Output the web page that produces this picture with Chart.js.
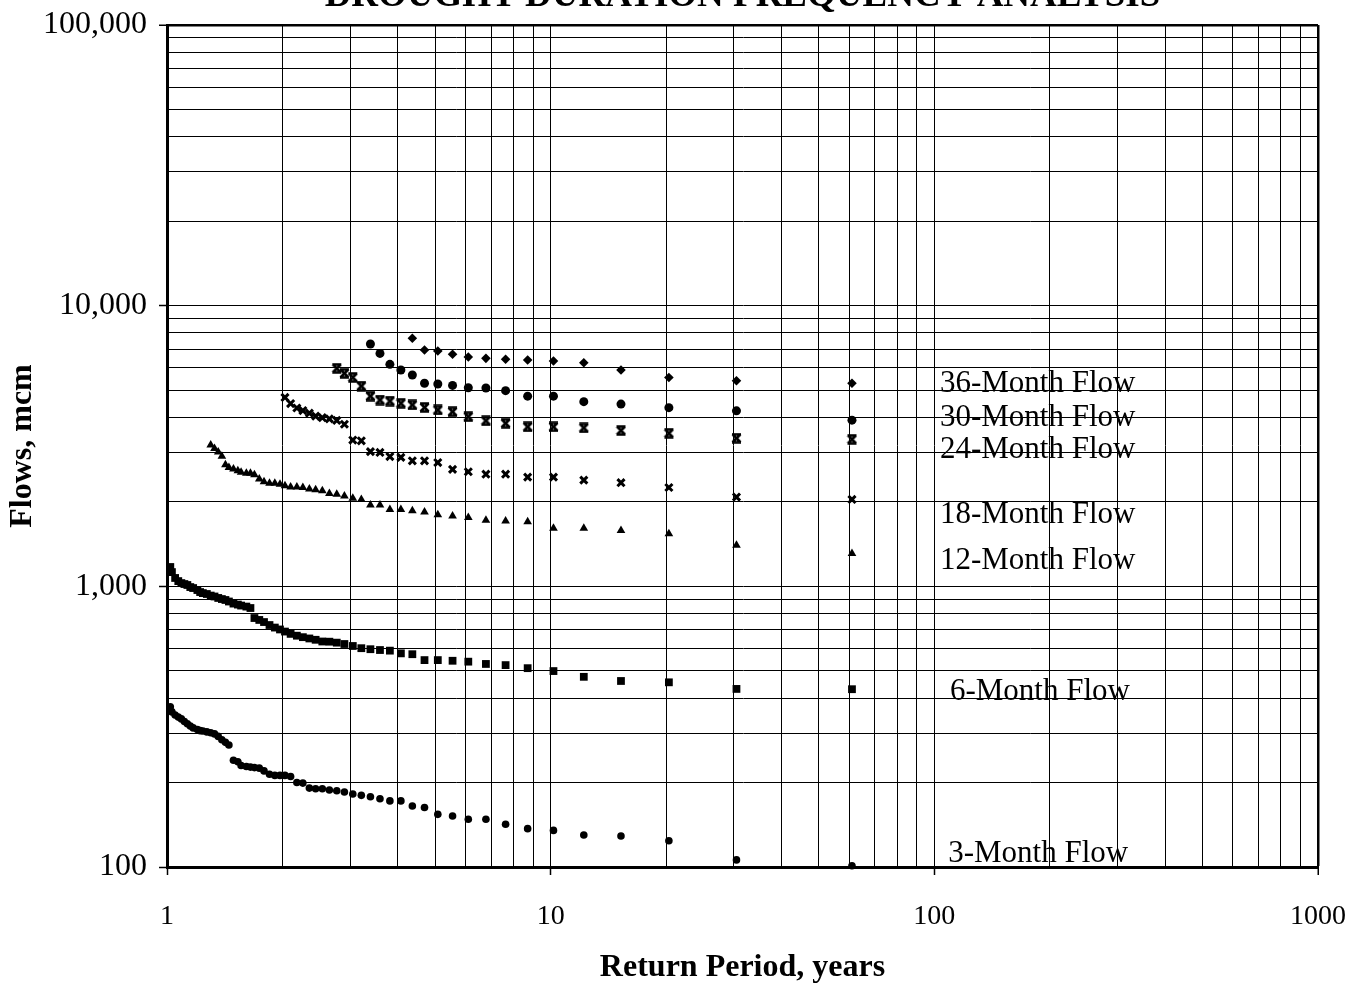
<!DOCTYPE html>
<html>
<head>
<meta charset="utf-8">
<script src="https://cdn.jsdelivr.net/npm/chart.js@4.4.0/dist/chart.umd.min.js"></script>
<style>
  html, body { margin: 0; padding: 0; background: #fff; }
</style>
</head>
<body>
<canvas id="myChart" width="1355" height="989"></canvas>
<script>
// return period of rank m (m = 1 first)
const returnPeriod = [61, 30.5, 20.33, 15.25, 12.2, 10.17, 8.71, 7.63, 6.78, 6.1,
	5.55, 5.08, 4.69, 4.36, 4.07, 3.81, 3.59, 3.39, 3.21, 3.05,
	2.9, 2.77, 2.65, 2.54, 2.44, 2.35, 2.26, 2.18, 2.1, 2.03,
	1.97, 1.91, 1.85, 1.79, 1.74, 1.69, 1.65, 1.61, 1.56, 1.53,
	1.49, 1.45, 1.42, 1.39, 1.36, 1.33, 1.3, 1.27, 1.24, 1.22,
	1.2, 1.17, 1.15, 1.13, 1.11, 1.09, 1.07, 1.05, 1.03, 1.02];

// flows, mcm
const flow36 = [5290, 5400, 5550, 5900, 6260, 6350, 6400, 6440, 6490, 6560, 6710, 6890, 6950, 7650];
const flow30 = [3910, 4220, 4330, 4460, 4550, 4760, 4760, 4980, 5090, 5100, 5200, 5260, 5290, 5660, 5900, 6180, 6760, 7300];
const flow24 = [3340, 3370, 3510, 3590, 3670, 3700, 3700, 3810, 3890, 4020, 4190, 4250, 4340, 4430, 4490, 4570, 4610, 4760, 5170, 5550, 5740, 5980];
const flow18 = [2040, 2080, 2250, 2340, 2390, 2450, 2450, 2510, 2510, 2560,
	2610, 2760, 2800, 2800, 2880, 2900, 3000, 3020, 3300, 3320,
	3780, 3900, 3950, 3990, 4040, 4140, 4230, 4320, 4480, 4710];
const flow12 = [1310, 1400, 1540, 1580, 1610, 1610, 1700, 1710, 1720, 1760,
	1780, 1800, 1840, 1860, 1880, 1880, 1950, 1950, 2040, 2060,
	2100, 2130, 2140, 2190, 2210, 2220, 2250, 2260, 2260, 2280,
	2310, 2330, 2330, 2360, 2410, 2500, 2530, 2530, 2550, 2580,
	2620, 2650, 2710, 2910, 3010, 3100, 3190];
const flow6 = [430, 431, 455, 460, 476, 499, 511, 524, 529, 539,
	543, 546, 546, 573, 577, 590, 593, 597, 602, 613,
	623, 630, 635, 636, 645, 652, 659, 667, 677, 690,
	702, 713, 728, 746, 759, 771, 837, 847, 854, 861,
	868, 883, 894, 901, 909, 920, 927, 939, 946, 954,
	970, 986, 994, 1011, 1019, 1027, 1044, 1071, 1124, 1172];
const flow3 = [101, 106, 124, 129, 130, 135, 137, 142, 148, 148,
	152, 154, 163, 165, 172, 172, 175, 178, 180, 182,
	185, 187, 188, 190, 190, 191, 199, 200, 210, 212,
	212, 212, 214, 220, 225, 226, 227, 228, 230, 237,
	240, 272, 278, 284, 292, 298, 301, 303, 305, 306,
	309, 313, 318, 324, 330, 337, 342, 348, 357, 372];

const seriesNames = ['36-Month Flow', '30-Month Flow', '24-Month Flow', '18-Month Flow', '12-Month Flow', '6-Month Flow', '3-Month Flow'];
const chartTitle = 'DROUGHT DURATION FREQUENCY ANALYSIS';

// tick / grid values
const xGrid = [1, 2, 3, 4, 5, 6, 7, 8, 9, 10, 20, 30, 40, 50, 60, 70, 80, 90,
	100, 200, 300, 400, 500, 600, 700, 800, 900, 1000];
const yGrid = [100, 200, 300, 400, 500, 600, 700, 800, 900,
	1000, 2000, 3000, 4000, 5000, 6000, 7000, 8000, 9000,
	10000, 20000, 30000, 40000, 50000, 60000, 70000, 80000, 90000, 100000];
const xLabelled = [1, 10, 100, 1000];
const yLabelled = [100, 1000, 10000, 100000];

// where the series names sit (return period, flow at text baseline)
const nameAt = [[103.4, 4910], [103.4, 3725], [103.4, 2858], [103.4, 1685], [103.4, 1150], [109.8, 394], [108.7, 104.4]];

function pts(vals) {
	return vals.map((v, i) => ({x: returnPeriod[i], y: v}));
}

// excel "star" marker, looks like an hourglass when printed
function starMarker() {
	const c = document.createElement('canvas');
	c.width = 11; c.height = 11;
	const g = c.getContext('2d');
	g.strokeStyle = '#000';
	g.lineWidth = 2.6;
	g.beginPath();
	g.moveTo(1.5, 1.5); g.lineTo(9.5, 9.5);
	g.moveTo(9.5, 1.5); g.lineTo(1.5, 9.5);
	g.moveTo(1, 1.5); g.lineTo(10, 1.5);
	g.moveTo(1, 9.5); g.lineTo(10, 9.5);
	g.stroke();
	return c;
}

function ds(vals, style, radius, bw) {
	return {
		data: pts(vals),
		pointStyle: style,
		pointRadius: radius,
		pointBackgroundColor: '#000',
		pointBorderColor: '#000',
		pointBorderWidth: bw,
		showLine: false,
		clip: false
	};
}

const flowText = {
	id: 'flowText',
	afterDatasetsDraw(chart) {
		const {ctx, scales: {x, y}} = chart;
		ctx.save();
		ctx.fillStyle = '#000';
		ctx.font = '31px "Liberation Serif"';
		ctx.textAlign = 'left';
		ctx.textBaseline = 'alphabetic';
		seriesNames.forEach((name, i) => {
			ctx.fillText(name, x.getPixelForValue(nameAt[i][0]), y.getPixelForValue(nameAt[i][1]));
		});
		ctx.font = 'bold 37px "Liberation Serif"';
		ctx.textAlign = 'center';
		ctx.fillText(chartTitle, (chart.chartArea.left + chart.chartArea.right) / 2, 6);
		ctx.restore();
	}
};

const serif = '"Liberation Serif", "Times New Roman", serif';

const config = {
	type: 'scatter',
	data: {
		datasets: [
			ds(flow36, 'rectRot', 4.8, 0),
			ds(flow30, 'circle', 4.5, 0),
			ds(flow24, starMarker(), 5, 0),
			ds(flow18, 'crossRot', 5, 3),
			ds(flow12, 'triangle', 5, 0),
			ds(flow6, 'rect', 5.5, 0),
			ds(flow3, 'circle', 3.8, 0)
		]
	},
	options: {
		responsive: false,
		animation: false,
		events: [],
		layout: {padding: {top: 25, right: 37, left: 0, bottom: 0}},
		plugins: {
			legend: {display: false},
			tooltip: {enabled: false}
		},
		scales: {
			x: {
				type: 'logarithmic',
				min: 1,
				max: 1000,
				afterBuildTicks: s => { s.ticks = xGrid.map(v => ({value: v, major: xLabelled.includes(v)})); },
				afterFit: s => { s.height = 122; s.paddingLeft = 0; s.paddingRight = 0; },
				ticks: {
					autoSkip: false,
					maxRotation: 0,
					padding: 25,
					color: '#000',
					font: {family: serif, size: 28},
					callback: v => xLabelled.includes(v) ? String(v) : ''
				},
				grid: {
					color: '#000',
					lineWidth: c => (c.tick && c.tick.value === 1000) ? 2.5 : 1,
					tickLength: 8,
					tickWidth: 1.5,
					tickColor: c => (c.tick && xLabelled.includes(c.tick.value)) ? '#000' : 'rgba(0,0,0,0)'
				},
				border: {display: true, color: '#000', width: 3},
				title: {
					display: true,
					text: 'Return Period, years',
					color: '#000',
					font: {family: serif, size: 32, weight: 'bold'},
					padding: {top: 0, bottom: 2}
				}
			},
			y: {
				type: 'logarithmic',
				min: 100,
				max: 100000,
				afterBuildTicks: s => { s.ticks = yGrid.map(v => ({value: v, major: yLabelled.includes(v)})); },
				afterFit: s => { s.width = 167; s.paddingTop = 0; s.paddingBottom = 0; },
				ticks: {
					autoSkip: false,
					padding: 12,
					color: '#000',
					font: {family: serif, size: 32},
					callback: v => yLabelled.includes(v) ? v.toLocaleString('en-US') : ''
				},
				grid: {
					color: '#000',
					lineWidth: c => (c.tick && c.tick.value === 100000) ? 2.5 : 1,
					tickLength: 8,
					tickWidth: 1.5,
					tickColor: c => (c.tick && yLabelled.includes(c.tick.value)) ? '#000' : 'rgba(0,0,0,0)'
				},
				border: {display: true, color: '#000', width: 3},
				title: {
					display: true,
					text: 'Flows, mcm',
					color: '#000',
					font: {family: serif, size: 32, weight: 'bold'},
					padding: {top: 4, bottom: 0}
				}
			}
		}
	},
	plugins: [flowText]
};

const myChart = new Chart(document.getElementById('myChart'), config);
</script>
</body>
</html>
